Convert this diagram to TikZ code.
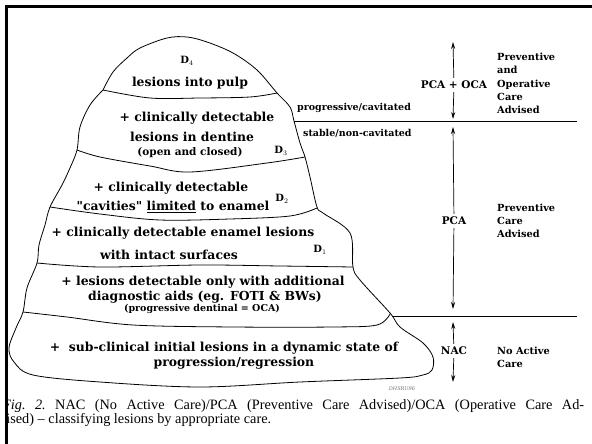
\documentclass[tikz,border=0pt]{standalone}
\usepackage{fontspec}
\setmainfont{Liberation Serif}
\newfontfamily\slab{DejaVu Serif}
\usetikzlibrary{arrows.meta}

\begin{document}
\begin{tikzpicture}[x=1pt, y=-1pt,
    txt/.style={font=\slab\bfseries\fontsize{12.4}{13}\selectfont, inner sep=0pt},
    note/.style={font=\slab\bfseries\fontsize{9.5}{10}\selectfont, inner sep=0pt},
    dlab/.style={font=\slab\bfseries\fontsize{10}{11}\selectfont, inner sep=0pt},
    side/.style={font=\slab\bfseries\fontsize{9.8}{13.3}\selectfont, align=left, anchor=west, inner sep=0pt},
    care/.style={font=\slab\bfseries\fontsize{10.5}{12}\selectfont, inner sep=3pt},
    berg/.style={line width=0.8pt, smooth, tension=0.55},
    arr/.style={-{Stealth[length=7pt, width=4pt]}, line width=0.7pt}]
    \useasboundingbox (0,0) rectangle (592,444);

    % frame
    \draw[line width=3pt] (6.5,444) -- (6.5,6.5) -- (592,6.5);

    % iceberg outline
    \draw[berg] plot coordinates {(103,90) (113,72) (127,58) (140,48) (167,38) (187,37) (207,42) (233,53) (257,70) (277,93)
        (290,107) (294,121) (300,143) (305,157) (310,177) (317,207) (323,213) (350,233) (353,267) (360,280) (390,313)
        (400,327) (423,343) (433,357) (432,370) (423,375) (400,378) (300,382) (200,387) (100,382) (33,375)
        (14,362) (9,348) (16,328) (23,312) (27,288) (37,263) (39,245) (45,225) (50,207) (62,185) (70,168) (77,150)
        (80,127) (90,105) (103,90)};
    % layer boundaries
    \draw[berg] plot coordinates {(103,90) (150,98) (200,98) (250,97) (277,93)};
    \draw[berg] plot coordinates {(77,150) (100,157) (150,166) (190,172) (267,163) (305,157)};
    \draw[berg] plot coordinates {(50,207) (100,214) (160,220) (230,219) (290,216) (317,208)};
    \draw[berg] plot coordinates {(37,263) (100,267) (200,265) (280,266) (353,267)};
    \draw[berg] plot coordinates {(23,312) (67,317) (133,325) (233,327) (333,327) (377,325) (390,314)};

    % layer texts
    \node[dlab] (d4) at (187,61) {D$_{\scriptstyle 4}$};
    \node[txt] (pulp) at (190,83) {lesions into pulp};
    \node[txt] (dentA) at (197,118) {+ clinically detectable};
    \node[txt] (dentB) at (192,137) {lesions in dentine};
    \node[note, font=\slab\bfseries\fontsize{10.5}{11}\selectfont] (dentC) at (190,153) {(open and closed)};
    \node[dlab] (d3) at (281,151) {D$_{\scriptstyle 3}$};
    \node[txt] (cavA) at (171,188) {+ clinically detectable};
    \node[txt] (cavB) at (173,207) {"cavities" \underline{limited} to enamel};
    \node[dlab] (d2) at (282,199) {D$_{\scriptstyle 2}$};
    \node[txt] (enaA) at (183,233) {+ clinically detectable enamel lesions};
    \node[txt] (enaB) at (169,255) {with intact surfaces};
    \node[dlab] (d1) at (320,250) {D$_{\scriptstyle 1}$};
    \node[txt] (aidA) at (203,282) {+ lesions detectable only with additional};
    \node[txt] (aidB) at (205,297) {diagnostic aids (eg. FOTI \& BWs)};
    \node[note] (aidC) at (202,309) {(progressive dentinal = OCA)};
    \node[txt] (subA) at (224,348) {+\ \ sub-clinical initial lesions in a dynamic state of};
    \node[txt] (subB) at (234,363) {progression/regression};
    \node[font=\slab\itshape\fontsize{5}{6}\selectfont, text=black!55, inner sep=0pt] (tag) at (402,389) {DHSRU96};

    % thresholds
    \coordinate (cutA) at (294,121);
    \coordinate (cutAend) at (577,121);
    \coordinate (cutB) at (392,316);
    \coordinate (cutBend) at (577,316);
    \draw[line width=0.8pt] (cutA) -- (cutAend);
    \draw[line width=0.8pt] (cutB) -- (cutBend);
    \node[note, anchor=west] (prog) at (297,108) {progressive/cavitated};
    \node[note, anchor=west] (stab) at (303,133) {stable/non-cavitated};

    % care arrows
    \node[care] (pcaoca) at (454,85) {PCA + OCA};
    \node[care] (pca) at (454,221) {PCA};
    \node[care] (nac) at (454,351) {NAC};
    \coordinate (oT) at (453,42);
    \coordinate (oB) at (453,119);
    \coordinate (pT) at (453,127);
    \coordinate (pB) at (453,309);
    \coordinate (nT) at (453,322);
    \coordinate (nB) at (453,382);
    \draw[arr] (pcaoca) -- (oT);
    \draw[arr] (pcaoca) -- (oB);
    \draw[arr] (pca) -- (pT);
    \draw[arr] (pca) -- (pB);
    \draw[arr] (nac) -- (nT);
    \draw[arr] (nac) -- (nB);

    \node[side] (adv1) at (497,83.5) {Preventive\\and\\Operative\\Care\\Advised};
    \node[side] (adv2) at (497,221) {Preventive\\Care\\Advised};
    \node[side] (adv3) at (497,357) {No Active\\Care};

    % caption
    \begin{scope}
      \clip (8,395) rectangle (592,430);
      \node[anchor=west, inner sep=0pt, font=\fontsize{14.3}{14}\selectfont\frenchspacing] (capA) at (2,406)
        {\makebox[582pt][s]{\textit{Fig. 2.} NAC (No Active Care)/PCA (Preventive Care Advised)/OCA (Operative Care Ad-}};
      \node[anchor=west, inner sep=0pt, font=\fontsize{14.3}{14}\selectfont] (capB) at (-1,420)
        {vised) -- classifying lesions by appropriate care.};
    \end{scope}
  \end{tikzpicture}
\end{document}
